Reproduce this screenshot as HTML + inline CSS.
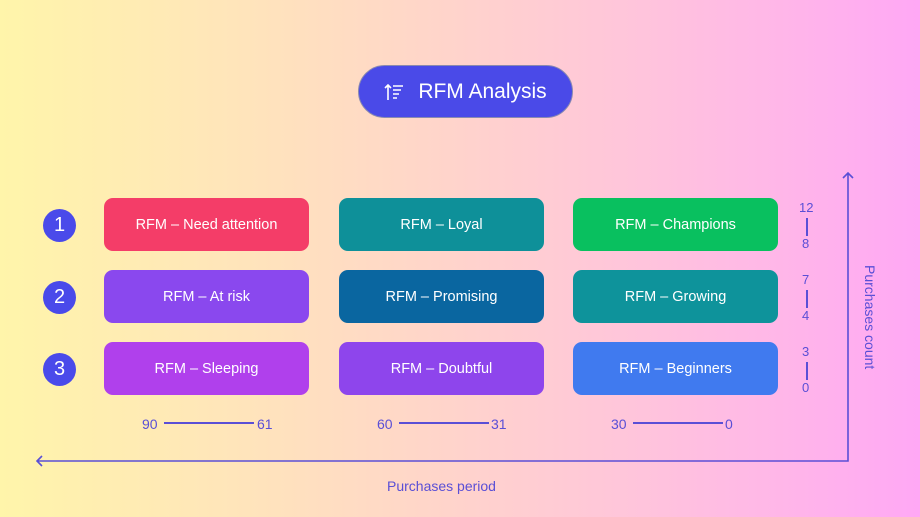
<!DOCTYPE html>
<html><head><meta charset="utf-8"><style>
*{margin:0;padding:0;box-sizing:border-box}
body{width:920px;height:517px;overflow:hidden;position:relative;font-family:"Liberation Sans",sans-serif;background:linear-gradient(90deg,#fff5aa 0%,#ffe2bd 30%,#ffd3cc 50%,#ffc4dc 70%,#ffa8f5 100%)}
.b{position:absolute;width:205px;height:53px;border-radius:9px;color:#fff;font-size:14.5px;display:flex;align-items:center;justify-content:center}
.c{position:absolute;left:43px;width:33px;height:33px;border-radius:50%;background:#4a4aea;color:#fff;font-size:20px;display:flex;align-items:center;justify-content:center}
.t{position:absolute;color:#5a4fd6;font-size:14px}
.h{position:absolute;height:1.5px;background:#5a4fd6;width:90px}
.v{position:absolute;width:1.5px;height:18px;background:#5a4fd6;left:806px}
</style></head><body>
<div style="position:absolute;left:358px;top:65px;width:215px;height:53px;border-radius:27px;background:#4a4ae8;border:1px solid #8a8ab0;color:#fff;font-size:21px;display:flex;align-items:center;justify-content:center;gap:14px">
<svg width="20" height="20" viewBox="0 0 20 20" stroke="#fff" stroke-width="1.6" fill="none"><path d="M4 18V3M1 6l3-3 3 3M9 4h10M9 8h8M9 12h6M9 16h4"/></svg>
<span>RFM Analysis</span></div>
<div class="c" style="top:209px">1</div>
<div class="c" style="top:281px">2</div>
<div class="c" style="top:353px">3</div>
<div class="b" style="left:104px;top:198px;background:#f43d68">RFM – Need attention</div>
<div class="b" style="left:339px;top:198px;background:#0e9099">RFM – Loyal</div>
<div class="b" style="left:573px;top:198px;background:#09c05f">RFM – Champions</div>
<div class="b" style="left:104px;top:270px;background:#8a48ee">RFM – At risk</div>
<div class="b" style="left:339px;top:270px;background:#0a66a0">RFM – Promising</div>
<div class="b" style="left:573px;top:270px;background:#0e939b">RFM – Growing</div>
<div class="b" style="left:104px;top:342px;background:#b040ec">RFM – Sleeping</div>
<div class="b" style="left:339px;top:342px;background:#8e45ec">RFM – Doubtful</div>
<div class="b" style="left:573px;top:342px;background:#407aef">RFM – Beginners</div>
<div class="t" style="left:142px;top:416px">90</div><div class="h" style="left:164px;top:422px"></div><div class="t" style="left:257px;top:416px">61</div>
<div class="t" style="left:377px;top:416px">60</div><div class="h" style="left:399px;top:422px"></div><div class="t" style="left:491px;top:416px">31</div>
<div class="t" style="left:611px;top:416px">30</div><div class="h" style="left:633px;top:422px"></div><div class="t" style="left:725px;top:416px">0</div>
<div class="t" style="left:799px;top:200px;font-size:13px">12</div><div class="v" style="top:218px"></div><div class="t" style="left:802px;top:236px;font-size:13px">8</div>
<div class="t" style="left:802px;top:272px;font-size:13px">7</div><div class="v" style="top:290px"></div><div class="t" style="left:802px;top:308px;font-size:13px">4</div>
<div class="t" style="left:802px;top:344px;font-size:13px">3</div><div class="v" style="top:362px"></div><div class="t" style="left:802px;top:380px;font-size:13px">0</div>
<svg style="position:absolute;left:0;top:0" width="920" height="517"><g stroke="#5a4fd6" stroke-width="1.6" fill="none"><path d="M848 173V461H37M843 178l5-5 5 5M42 456l-5 5 5 5"/></g></svg>
<div class="t" style="left:387px;top:478px">Purchases period</div>
<div class="t" style="left:862px;top:265px;writing-mode:vertical-rl">Purchases count</div>
</body></html>
